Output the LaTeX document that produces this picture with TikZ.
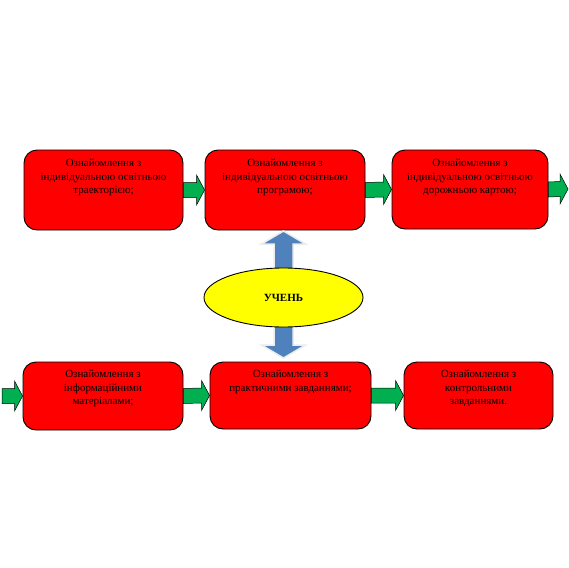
\documentclass[tikz,border=0pt]{standalone}
\usepackage{fontspec}
\setmainfont{Liberation Serif}
\usetikzlibrary{shapes.geometric,calc}
\definecolor{boxred}{RGB}{255,0,0}
\definecolor{arrgreen}{RGB}{0,176,80}
\definecolor{arrblue}{RGB}{79,129,189}
\definecolor{pupilyellow}{RGB}{255,255,0}
\tikzset{
  stage/.style={draw=black,fill=boxred,rounded corners=13pt,line width=0.9pt,inner sep=0pt},
  stagetxt/.style={anchor=north,align=center,inner sep=0pt,font=\fontsize{11}{13.6}\selectfont},
  garrow/.style={draw=black,fill=arrgreen,line width=0.5pt,
    to path={($(\tikztostart)+(0,-7.5)$)--($(\tikztotarget)+(-8,-7.5)$)--($(\tikztotarget)+(-8,-15)$)
      --(\tikztotarget)--($(\tikztotarget)+(-8,15)$)--($(\tikztotarget)+(-8,7.5)$)--($(\tikztostart)+(0,7.5)$)--cycle}},
  barrow/.style={fill=arrblue,draw=gray!15,line width=1.5pt,line join=miter}
}
\begin{document}
\begin{tikzpicture}[x=1pt,y=-1pt]
\useasboundingbox (0,0) rectangle (569,567);
% top row
\node[stage,minimum width=159pt,minimum height=80pt] (b1) at (103.5,190) {};
\node[stage,minimum width=160pt,minimum height=80pt] (b2) at (285,190) {};
\node[stage,minimum width=156pt,minimum height=79pt] (b3) at (470,189.5) {};
\node[stagetxt] (t1) at ($(b1.north)+(0,9.5)$) {Ознайомлення з\\індивідуальною освітньою\\траекторією;};
\node[stagetxt] (t2) at ($(b2.north)+(0,9.5)$) {Ознайомлення з\\індивідуальною освітньою\\програмою;};
\node[stagetxt] (t3) at ($(b3.north)+(0,9.5)$) {Ознайомлення з\\індивідуальною освітньою\\дорожньою картою;};
% bottom row
\node[stage,minimum width=160pt,minimum height=68pt] (b4) at (103,396) {};
\node[stage,minimum width=161pt,minimum height=67pt] (b5) at (290.5,395.5) {};
\node[stage,minimum width=149pt,minimum height=67pt] (b6) at (478.5,395.5) {};
\node[stagetxt] (t4) at ($(b4.north)+(0,8.5)$) {Ознайомлення з\\інформаційними\\матеріалами;};
\node[stagetxt] (t5) at ($(b5.north)+(0,8.5)$) {Ознайомлення з\\практичними завданнями;};
\node[stagetxt] (t6) at ($(b6.north)+(0,8.5)$) {Ознайомлення з\\контрольними\\завданнями.};
\coordinate (rightend) at (568,189);
\coordinate (leftend) at (2,396);
% green arrows
\draw[garrow] (b1.east) to (b2.west);
\draw[garrow] (b2.east) to (b3.west);
\draw[garrow] (b3.east) to (rightend);
\draw[garrow] (leftend) to (b4.west);
\draw[garrow] (b4.east) to (b5.west);
\draw[garrow] (b5.east) to (b6.west);
% pupil in the middle
\coordinate (up) at (283.5,231);
\coordinate (dn) at (283.5,358);
\draw[barrow] (up)--++(22,13)--++(-12.5,0)--($(dn)+(9.5,-13)$)--++(12.5,0)--(dn)
  --++(-22,-13)--++(12.5,0)--($(up)+(-9.5,13)$)--++(-12.5,0)--cycle;
\node[ellipse,draw=black,line width=0.9pt,fill=pupilyellow,minimum width=159pt,minimum height=59pt,inner sep=0pt,
  font=\fontsize{11}{13}\selectfont\bfseries] (pupil) at (283.5,297.5) {УЧЕНЬ};
\end{tikzpicture}
\end{document}
